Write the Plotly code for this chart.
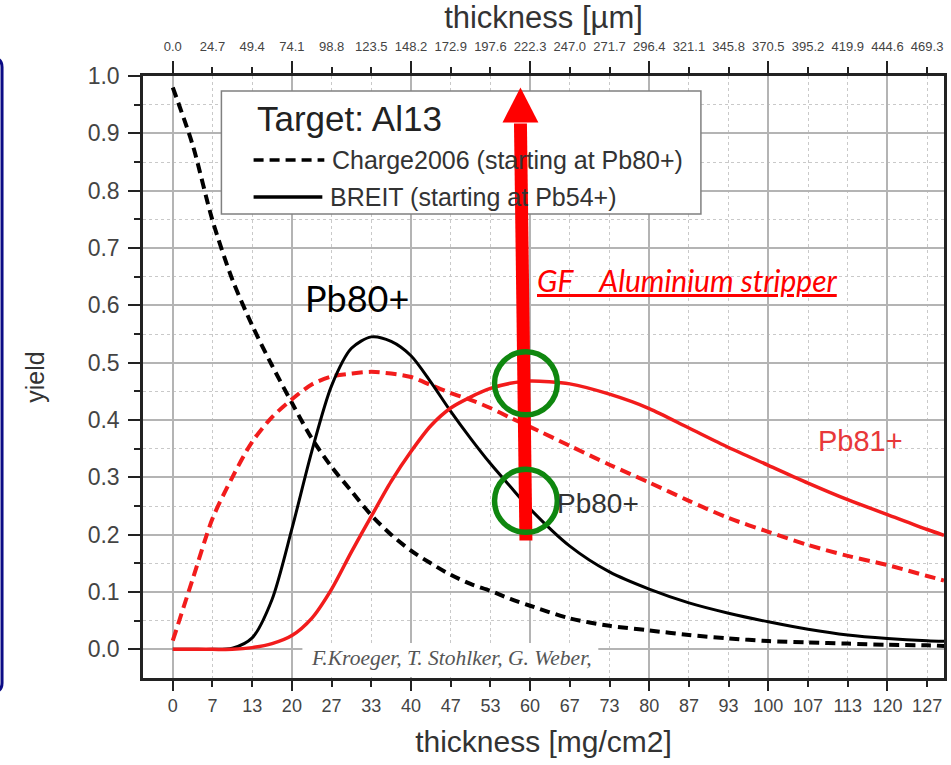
import plotly.graph_objects as go

# ---------------- data ----------------
thickness_mg = [0, 3.33, 6.67, 10, 13.33, 16.67, 20, 23.33, 26.67, 30, 33.33, 36.67, 40,
                43.33, 46.67, 50, 53.33, 56.67, 60, 66.67, 73.33, 80, 86.67, 93.33, 100,
                106.67, 113.33, 120, 126.67, 129.5]

charge2006_pb80 = [0.98, 0.88, 0.748, 0.645, 0.565, 0.495, 0.43, 0.368, 0.318, 0.276, 0.234,
                   0.200, 0.172, 0.150, 0.130, 0.114, 0.102, 0.088, 0.076, 0.054, 0.041,
                   0.033, 0.025, 0.019, 0.0145, 0.012, 0.010, 0.008, 0.007, 0.006]

charge2006_pb81 = [0.015, 0.122, 0.228, 0.300, 0.362, 0.405, 0.436, 0.462, 0.476, 0.481,
                   0.484, 0.481, 0.475, 0.461, 0.447, 0.435, 0.421, 0.404, 0.388, 0.355,
                   0.322, 0.291, 0.259, 0.229, 0.205, 0.182, 0.163, 0.147, 0.128, 0.120]

breit_pb80 = [0, 0, 0, 0.002, 0.02, 0.087, 0.21, 0.345, 0.46, 0.525, 0.545, 0.537, 0.512,
              0.466, 0.415, 0.368, 0.324, 0.284, 0.245, 0.180, 0.135, 0.105, 0.081, 0.063,
              0.048, 0.035, 0.025, 0.019, 0.015, 0.014]

breit_pb81 = [0, 0, 0, 0, 0.003, 0.010, 0.024, 0.054, 0.105, 0.170, 0.232, 0.293, 0.345,
              0.390, 0.421, 0.440, 0.455, 0.464, 0.468, 0.463, 0.445, 0.420, 0.386, 0.352,
              0.321, 0.290, 0.261, 0.235, 0.209, 0.199]

bottom_tick_labels = ["0", "7", "13", "20", "27", "33", "40", "47", "53", "60", "67", "73",
                      "80", "87", "93", "100", "107", "113", "120", "127"]
top_tick_labels = ["0.0", "24.7", "49.4", "74.1", "98.8", "123.5", "148.2", "172.9", "197.6",
                   "222.3", "247.0", "271.7", "296.4", "321.1", "345.8", "370.5", "395.2",
                   "419.9", "444.6", "469.3"]
yield_ticks = [0.0, 0.1, 0.2, 0.3, 0.4, 0.5, 0.6, 0.7, 0.8, 0.9, 1.0]
yield_minor = [0.05, 0.15, 0.25, 0.35, 0.45, 0.55, 0.65, 0.75, 0.85, 0.95]

stripper_thickness = 59.3      # position of the GF aluminium stripper (mg/cm2)
circle_yields = [0.464, 0.259]  # marked yields at the stripper

# ---------------- layout helpers ----------------
FONT = "Liberation Sans, Arial, sans-serif"
X_RANGE = [-5, 129.5]
Y_RANGE = [-0.05, 1.0]
ML, MR, MT, MB = 143, 4, 76, 87
W, H = 951, 765
PW, PH = W - ML - MR, H - MT - MB


def pxx(p):  # pixel x -> paper
    return (p - ML) / PW


def pxy(p):  # pixel y -> paper
    return (H - MB - p) / PH


XS = PW / (X_RANGE[1] - X_RANGE[0])
YS = PH / (Y_RANGE[1] - Y_RANGE[0])

tick_pos = [i * 20 / 3 for i in range(len(bottom_tick_labels))]
major_idx = [i for i in range(len(tick_pos)) if i % 3 == 0]
minor_idx = [i for i in range(len(tick_pos)) if i % 3 != 0]
major_pos = [tick_pos[i] for i in major_idx]
minor_pos = [tick_pos[i] for i in minor_idx]

RED = "#f21c1c"
BLACK = "#000000"

fig = go.Figure()
fig.add_trace(go.Scatter(x=thickness_mg, y=charge2006_pb80, mode="lines",
                         line=dict(color=BLACK, width=4, dash="10px,6px", shape="spline", smoothing=0.8),
                         name="Charge2006 Pb80+"))
fig.add_trace(go.Scatter(x=thickness_mg, y=charge2006_pb81, mode="lines",
                         line=dict(color=RED, width=4, dash="11px,6px", shape="spline", smoothing=0.8),
                         name="Charge2006 Pb81+"))
fig.add_trace(go.Scatter(x=thickness_mg, y=breit_pb80, mode="lines",
                         line=dict(color=BLACK, width=3, shape="spline", smoothing=0.8),
                         name="BREIT Pb80+"))
fig.add_trace(go.Scatter(x=thickness_mg, y=breit_pb81, mode="lines",
                         line=dict(color=RED, width=3.5, shape="spline", smoothing=0.8),
                         name="BREIT Pb81+"))
# dummy traces for overlay axes
for ax in ["x2", "x3", "x4"]:
    fig.add_trace(go.Scatter(x=[None], y=[None], xaxis=ax, yaxis="y", showlegend=False,
                             hoverinfo="skip"))

GRID_MAJ = "#b4b4b4"
GRID_MIN = "#c9c9c9"
TICKC = "#222222"
LABC = "#444444"
TRANSP = "rgba(0,0,0,0)"

fig.update_layout(
    width=W, height=H, margin=dict(l=ML, r=MR, t=MT, b=MB),
    paper_bgcolor="white", plot_bgcolor="white", showlegend=False,
    font=dict(family=FONT, color="#333333"),
    # bottom axis: ticks + grid
    xaxis=dict(
        range=X_RANGE, tickmode="array", tickvals=major_pos,
        ticks="outside", ticklen=10, tickwidth=2, tickcolor=TICKC, showticklabels=False,
        showline=True, linecolor=TICKC, linewidth=2.5, mirror=False,
        showgrid=True, gridcolor=GRID_MAJ, gridwidth=1.5, zeroline=False,
        minor=dict(tickmode="array", tickvals=minor_pos, ticks="outside", ticklen=6,
                   tickwidth=2, tickcolor=TICKC, showgrid=True, gridcolor=GRID_MIN,
                   griddash="dot", gridwidth=1.2),
    ),
    # bottom axis: labels + title
    xaxis3=dict(
        overlaying="x", anchor="y", side="bottom", range=X_RANGE,
        tickmode="array", tickvals=tick_pos, ticktext=bottom_tick_labels,
        ticks="outside", ticklen=11, tickcolor=TRANSP,
        showline=False, showgrid=False, zeroline=False,
        tickfont=dict(size=18, color=LABC, family=FONT),
        title=dict(text="thickness [mg/cm2]", font=dict(size=30, color="#333333", family=FONT),
                   standoff=16),
    ),
    # top axis: ticks + frame
    xaxis2=dict(
        overlaying="x", anchor="y", side="top", range=X_RANGE,
        tickmode="array", tickvals=major_pos, showticklabels=False,
        ticks="outside", ticklen=12, tickwidth=2, tickcolor=TICKC,
        showline=True, linecolor=TICKC, linewidth=2.5,
        showgrid=False, zeroline=False,
        minor=dict(tickmode="array", tickvals=minor_pos, ticks="outside", ticklen=6,
                   tickwidth=2, tickcolor=TICKC, showgrid=False),
    ),
    # top axis: labels + title
    xaxis4=dict(
        overlaying="x", anchor="y", side="top", range=X_RANGE,
        tickmode="array", tickvals=tick_pos, ticktext=top_tick_labels,
        ticks="outside", ticklen=19, tickcolor=TRANSP,
        showline=False, showgrid=False, zeroline=False,
        tickfont=dict(size=13, color=LABC, family=FONT),
        title=dict(text="thickness [µm]", font=dict(size=31, color="#333333", family=FONT),
                   standoff=4),
    ),
    yaxis=dict(
        range=Y_RANGE, tickmode="array", tickvals=yield_ticks,
        ticktext=[f"{v:.1f}" for v in yield_ticks],
        ticks="outside", ticklen=12, tickwidth=2, tickcolor=TICKC,
        showline=True, linecolor=TICKC, linewidth=2.5, mirror=True,
        showgrid=True, gridcolor=GRID_MAJ, gridwidth=1.5, zeroline=False,
        tickfont=dict(size=23, color=LABC, family=FONT), ticklabelstandoff=4,
        minor=dict(tickmode="array", tickvals=yield_minor, ticks="outside", ticklen=6,
                   tickwidth=2, tickcolor=TICKC, showgrid=True, gridcolor=GRID_MIN,
                   griddash="dot", gridwidth=1.2),
        title=dict(text="yield", font=dict(size=25, color="#333333", family=FONT), standoff=36),
    ),
)

shapes = []
# blue slide frame on the left edge
bx = 1.5
shapes.append(dict(
    type="path", xref="paper", yref="paper",
    path=(f"M {pxx(-30)} {pxy(58)} L {pxx(-8)} {pxy(58)} Q {pxx(bx)} {pxy(58)} {pxx(bx)} {pxy(67)} "
          f"L {pxx(bx)} {pxy(683)} Q {pxx(bx)} {pxy(692)} {pxx(-8)} {pxy(692)} L {pxx(-30)} {pxy(692)}"),
    line=dict(color="#0b0b85", width=3), layer="above"))
# legend box
shapes.append(dict(type="rect", xref="paper", yref="paper",
                   x0=pxx(221.7), x1=pxx(703), y0=pxy(214), y1=pxy(91),
                   line=dict(color="#808080", width=1.5), fillcolor="white", layer="above"))
shapes.append(dict(type="line", xref="paper", yref="paper",
                   x0=pxx(254), x1=pxx(325), y0=pxy(160), y1=pxy(160),
                   line=dict(color=BLACK, width=3.5, dash="10px,6px"), layer="above"))
shapes.append(dict(type="line", xref="paper", yref="paper",
                   x0=pxx(254), x1=pxx(323), y0=pxy(197), y1=pxy(197),
                   line=dict(color=BLACK, width=3.5), layer="above"))
# citation box
shapes.append(dict(type="rect", xref="paper", yref="paper",
                   x0=pxx(303), x1=pxx(600), y0=pxy(677), y1=pxy(643),
                   line=dict(width=0), fillcolor="white", layer="above"))

# red arrow marking the stripper thickness
y_bot, y_shaft_top, y_tip = 0.19, 0.917, 0.980
x_bot = stripper_thickness
x_top = stripper_thickness - 5.5 / XS
half = 6.5 / XS
head = 18 / XS
shapes.append(dict(type="path", xref="x", yref="y",
                   path=(f"M {x_bot - half} {y_bot} L {x_top - half} {y_shaft_top} "
                         f"L {x_top + half} {y_shaft_top} L {x_bot + half} {y_bot} Z"),
                   fillcolor="#ff0000", line=dict(width=0), layer="above"))
shapes.append(dict(type="path", xref="x", yref="y",
                   path=(f"M {x_top - head} {y_shaft_top + 0.002} L {x_top + head} {y_shaft_top + 0.002} "
                         f"L {x_top} {y_tip} Z"),
                   fillcolor="#ff0000", line=dict(width=0), layer="above"))
# green circles
r_px = 31.5
for cy in circle_yields:
    shapes.append(dict(type="circle", xref="x", yref="y",
                       x0=stripper_thickness - r_px / XS, x1=stripper_thickness + r_px / XS,
                       y0=cy - r_px / YS, y1=cy + r_px / YS,
                       line=dict(color="#0f870f", width=5.5), layer="above"))
fig.update_layout(shapes=shapes)

ann = []
ann.append(dict(xref="paper", yref="paper", x=pxx(255), y=pxy(118), xanchor="left", yanchor="middle",
                text="Target: Al13", showarrow=False, font=dict(size=35, color="#222222", family=FONT)))
ann.append(dict(xref="paper", yref="paper", x=pxx(331), y=pxy(160), xanchor="left", yanchor="middle",
                text="Charge2006 (starting at Pb80+)", showarrow=False,
                font=dict(size=25, color="#333333", family=FONT)))
ann.append(dict(xref="paper", yref="paper", x=pxx(329), y=pxy(197), xanchor="left", yanchor="middle",
                text="BREIT (starting at Pb54+)", showarrow=False,
                font=dict(size=25, color="#333333", family=FONT)))
ann.append(dict(xref="paper", yref="paper", x=pxx(453), y=pxy(658), xanchor="center", yanchor="middle",
                text="<i>F.Kroeger, T. Stohlker, G. Weber,</i>", showarrow=False,
                font=dict(size=21.5, color="#555555", family="Liberation Serif, Times New Roman, serif")))
ann.append(dict(xref="x", yref="y", x=31.0, y=0.612, xanchor="center", yanchor="middle",
                text="Pb80+", showarrow=False, font=dict(size=36, color="#000000", family="Lato, Open Sans, sans-serif")))
ann.append(dict(xref="x", yref="y", x=71.4, y=0.255, xanchor="center", yanchor="middle",
                text="Pb80+", showarrow=False, font=dict(size=28, color="#333333", family=FONT)))
ann.append(dict(xref="x", yref="y", x=115.4, y=0.363, xanchor="center", yanchor="middle",
                text="Pb81+", showarrow=False, font=dict(size=29, color="#e8383a", family=FONT)))
ann.append(dict(xref="x", yref="y", x=86.3, y=0.645, xanchor="center", yanchor="middle",
                text="<u><i>GF _ Aluminium stripper</i></u>", showarrow=False,
                font=dict(size=30, color="#ff0000", family="Lato, Open Sans, sans-serif")))
fig.update_layout(annotations=ann)

fig.write_html("out.html")
